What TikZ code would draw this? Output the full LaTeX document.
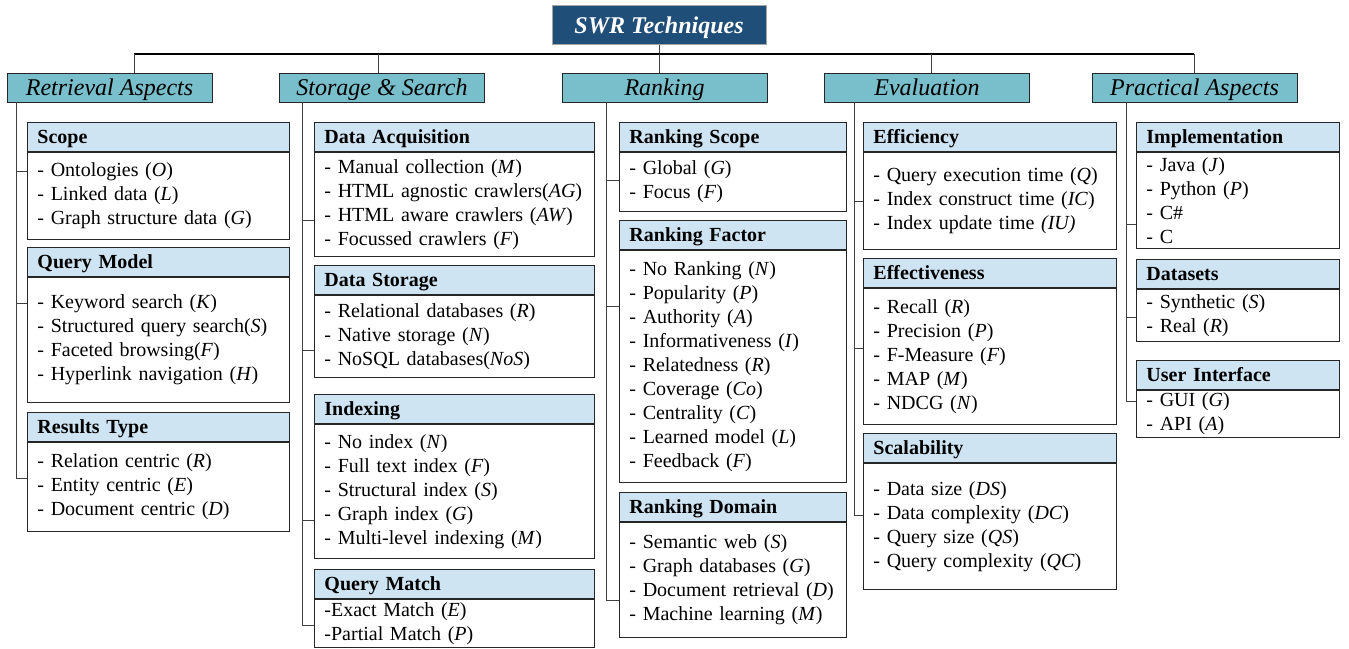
\documentclass[tikz,border=0pt]{standalone}
\usepackage{fontspec}
\setmainfont{Liberation Serif}
\usetikzlibrary{positioning}
\definecolor{titleblue}{RGB}{31,78,121}
\definecolor{catteal}{RGB}{120,190,203}
\definecolor{hdrblue}{RGB}{207,228,242}
\definecolor{linegray}{RGB}{64,64,64}
\tikzset{
  titlebox/.style={draw=gray!70, fill=titleblue, text=white, inner sep=0pt, text height=19pt, text depth=3pt,
    font=\fontsize{24}{28}\selectfont\bfseries\itshape, minimum width=214pt, minimum height=39pt},
  catbox/.style={draw=black!85, fill=catteal, inner sep=0pt, line width=0.9pt, text height=19pt, text depth=3pt,
    font=\fontsize{24}{28}\selectfont\itshape, minimum width=205pt, minimum height=29pt},
  hdr/.style={draw=black!85, fill=hdrblue, line width=0.9pt, anchor=north west, align=left,
    text height=16pt, text depth=2pt,
    font=\fontsize{20}{24}\selectfont\bfseries, minimum height=29pt, inner xsep=10pt, inner ysep=0pt},
  itm/.style={draw=black!85, fill=white, line width=0.9pt, align=left,
    font=\fontsize{20}{24}\selectfont, inner xsep=10pt, inner ysep=2pt},
  conn/.style={draw=linegray, line width=1pt},
  bus/.style={draw=black, line width=1.4pt},
}
% #1 name, #2 text width, #3 x, #4 y, #5 title, #6 body height, #7 items
\newcommand{\subbox}[7]{%
  \node[hdr, text width=#2] (#1h) at (#3,#4) {#5};
  \node[itm, text width=#2, minimum height=#6, below right=0pt and 0pt of #1h.south west] (#1) {#7};
}
\newcommand{\tick}[3]{\draw[conn] (#1 |- 0,#3) -- (#2.west |- 0,#3);}

\begin{document}
\begin{tikzpicture}[x=1pt, y=-1pt]
\useasboundingbox (0,0) rectangle (1349,648);

\node[titlebox] (swr) at (659,25) {SWR Techniques};
\node[catbox] (ret) at (109.5,87.5) {Retrieval Aspects};
\node[catbox] (sto) at (382,87.5) {Storage \& Search};
\node[catbox] (rank) at (664.5,87.5) {Ranking};
\node[catbox] (eval) at (927,87.5) {Evaluation};
\node[catbox] (prac) at (1194.5,87.5) {Practical Aspects};

% bus
\coordinate (d1) at (134,54);
\coordinate (d2) at (378,54);
\coordinate (d3) at (659,54);
\coordinate (d4) at (931,54);
\coordinate (d5) at (1194,54);
\draw[conn] (swr.south) -- (d3);
\draw[bus] (d1) -- (d5);
\draw[conn] (ret.north -| d1) -- (d1);
\draw[conn] (sto.north -| d2) -- (d2);
\draw[conn] (rank.north -| d3) -- (d3);
\draw[conn] (eval.north -| d4) -- (d4);
\draw[conn] (prac.north -| d5) -- (d5);

% retrieval aspects
\subbox{scope}{242pt}{27}{122}{Scope}{87pt}
  {- Ontologies (\textit{O})\\- Linked data (\textit{L})\\- Graph structure data (\textit{G})}
\subbox{qmodel}{242pt}{27}{247}{Query Model}{125pt}
  {- Keyword search (\textit{K})\\- Structured query search(\textit{S})\\- Faceted browsing(\textit{F})\\- Hyperlink navigation (\textit{H})}
\subbox{rtype}{242pt}{27}{412}{Results Type}{89pt}
  {- Relation centric (\textit{R})\\- Entity centric (\textit{E})\\- Document centric (\textit{D})}
\coordinate (t1) at (16,478);
\draw[conn] (ret.south -| t1) -- (t1);
\tick{t1}{scope}{171}
\tick{t1}{qmodel}{303}
\tick{t1}{rtype}{478}

% storage & search
\subbox{dacq}{260pt}{314}{122}{Data Acquisition}{104pt}
  {- Manual collection (\textit{M})\\- HTML agnostic crawlers(\textit{AG})\\- HTML aware crawlers (\textit{AW})\\- Focussed crawlers (\textit{F})}
\subbox{dstore}{260pt}{314}{265}{Data Storage}{82pt}
  {- Relational databases (\textit{R})\\- Native storage (\textit{N})\\- NoSQL databases(\textit{NoS})}
\subbox{index}{260pt}{314}{394}{Indexing}{134pt}
  {- No index (\textit{N})\\- Full text index (\textit{F})\\- Structural index (\textit{S})\\- Graph index (\textit{G})\\- Multi-level indexing (\textit{M})}
\subbox{qmatch}{260pt}{314}{569}{Query Match}{48pt}
  {-Exact Match (\textit{E})\\-Partial Match (\textit{P})}
\coordinate (t2) at (302,625);
\draw[conn] (sto.south -| t2) -- (t2);
\tick{t2}{dacq}{220}
\tick{t2}{dstore}{350}
\tick{t2}{index}{520}
\tick{t2}{qmatch}{625}

% ranking
\subbox{rscope}{207pt}{619}{122}{Ranking Scope}{59pt}
  {- Global (\textit{G})\\- Focus (\textit{F})}
\subbox{rfactor}{207pt}{619}{220}{Ranking Factor}{232pt}
  {- No Ranking (\textit{N})\\- Popularity (\textit{P})\\- Authority (\textit{A})\\- Informativeness (\textit{I})\\- Relatedness (\textit{R})\\- Coverage (\textit{Co})\\- Centrality (\textit{C})\\- Learned model (\textit{L})\\- Feedback (\textit{F})}
\subbox{rdomain}{207pt}{619}{492}{Ranking Domain}{115pt}
  {- Semantic web (\textit{S})\\- Graph databases (\textit{G})\\- Document retrieval (\textit{D})\\- Machine learning (\textit{M})}
\coordinate (t3) at (606,600);
\draw[conn] (rank.south -| t3) -- (t3);
\tick{t3}{rscope}{180}
\tick{t3}{rfactor}{306}
\tick{t3}{rdomain}{600}

% evaluation
\subbox{effic}{233pt}{863}{122}{Efficiency}{97pt}
  {- Query execution time (\textit{Q})\\- Index construct time (\textit{IC})\\- Index update time \textit{(IU)}}
\subbox{effect}{233pt}{863}{258}{Effectiveness}{136pt}
  {- Recall (\textit{R})\\- Precision (\textit{P})\\- F-Measure (\textit{F})\\- MAP (\textit{M})\\- NDCG (\textit{N})}
\subbox{scal}{233pt}{863}{433}{Scalability}{126pt}
  {- Data size (\textit{DS})\\- Data complexity (\textit{DC})\\- Query size (\textit{QS})\\- Query complexity (\textit{QC})}
\coordinate (t4) at (854,515);
\draw[conn] (eval.south -| t4) -- (t4);
\tick{t4}{effic}{201}
\tick{t4}{effect}{348}
\tick{t4}{scal}{515}

% practical aspects
\subbox{impl}{183pt}{1136}{122}{Implementation}{96pt}
  {- Java (\textit{J})\\- Python (\textit{P})\\- C\#\\- C}
\subbox{dsets}{183pt}{1136}{259}{Datasets}{52pt}
  {- Synthetic (\textit{S})\\- Real (\textit{R})}
\subbox{ui}{183pt}{1136}{360}{User Interface}{47pt}
  {- GUI (\textit{G})\\- API (\textit{A})}
\coordinate (t5) at (1126,401);
\draw[conn] (prac.south -| t5) -- (t5);
\tick{t5}{impl}{224}
\tick{t5}{dsets}{317}
\tick{t5}{ui}{401}
\end{tikzpicture}
\end{document}
